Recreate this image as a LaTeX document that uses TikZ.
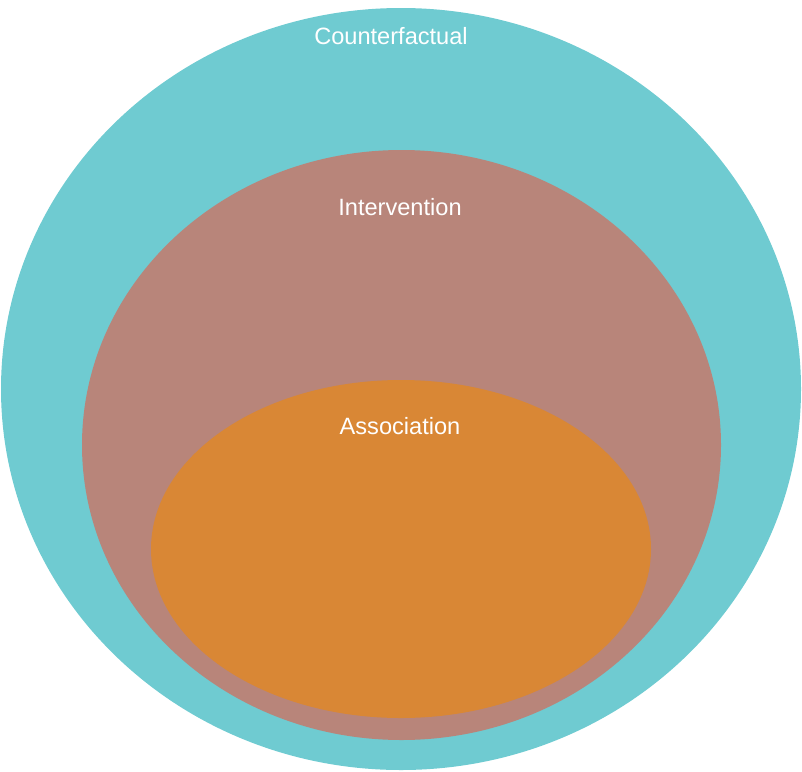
\documentclass[tikz,border=0pt]{standalone}
\usepackage{fontspec}
\setmainfont{Liberation Sans}
\definecolor{cfteal}{HTML}{6FCBD1}
\definecolor{intbrown}{HTML}{B8857A}
\definecolor{assocorange}{HTML}{D98735}
\tikzset{
  label/.style={text=white, font=\fontsize{23.6}{28}\selectfont, inner sep=0pt}
}
\begin{document}
\begin{tikzpicture}[x=1pt,y=-1pt]
        \useasboundingbox (0,0) rectangle (802,771);

        % Counterfactual ring
        \fill[cfteal] (401,389) ellipse [x radius=400, y radius=381];
        \node[label] (counterfactual) at (391,36) {Counterfactual};

        % Intervention ring
        \fill[intbrown] (401.5,445) ellipse [x radius=319.5, y radius=295];
        \node[label] (intervention) at (400,207) {Intervention};

        % Association core
        \fill[assocorange] (401,549) ellipse [x radius=250, y radius=169];
        \node[label] (association) at (400,426) {Association};
    \end{tikzpicture}
\end{document}
